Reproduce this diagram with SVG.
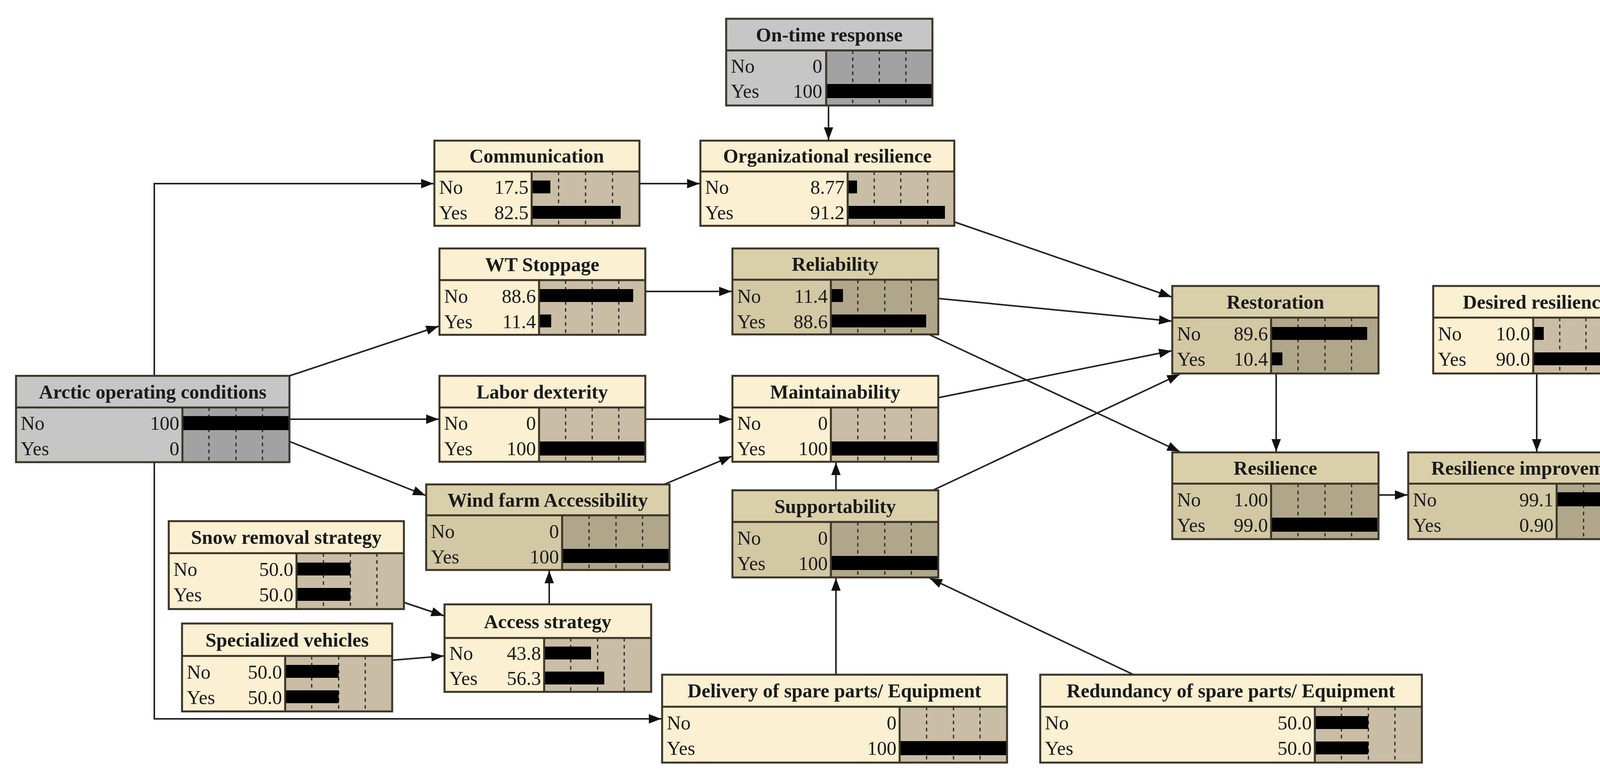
<svg xmlns="http://www.w3.org/2000/svg" width="4305" height="1994" viewBox="0 0 4305 1994">
<style>
.o{stroke:#3a3528;stroke-width:5}
.tc{fill:#fcf0d2}.bc{fill:#c9bda5}
.td{fill:#d9d0aa}.ld{fill:#d2c8a4}.bd{fill:#b0a68a}
.tg{fill:#c6c6c6}.bg{fill:#a2a2a2}
.dv{stroke:#3a3528;stroke-width:5}
.ds{stroke:#222;stroke-width:3;stroke-dasharray:9 9}
.bar{fill:#000}
.t{font-family:"Liberation Serif",serif;font-weight:bold;font-size:50px;fill:#1a1a1a;text-anchor:middle}
.r{font-family:"Liberation Serif",serif;font-size:50px;fill:#1a1a1a}
.v{text-anchor:end}
.e{stroke:#222;stroke-width:4;fill:none;marker-end:url(#ah)}
</style>
<defs>
<marker id="ah" markerUnits="userSpaceOnUse" markerWidth="34" markerHeight="24" refX="32" refY="12" orient="auto"><path d="M0,0 L32,12 L0,24 Z" fill="#111"/></marker>
</defs>
<rect width="4305" height="1994" fill="#fff"/>
<g id="connectors">
<path class="e" d="M395,962 V470 H1110"/>
<path class="e" d="M395,1183 V1840 H1693"/>
<path class="e" d="M741,962 L1123,835"/>
<path class="e" d="M741,1073 H1123"/>
<path class="e" d="M741,1130 L1089,1268"/>
<path class="e" d="M1637,470 H1791"/>
<path class="e" d="M2121,272 V358"/>
<path class="e" d="M1652,746 H1873"/>
<path class="e" d="M1652,1073 H1873"/>
<path class="e" d="M1700,1240 L1873,1168"/>
<path class="e" d="M1406,1547 V1461"/>
<path class="e" d="M1034,1542 L1136,1576"/>
<path class="e" d="M1004,1690 L1136,1679"/>
<path class="e" d="M2443,568 L2999,760"/>
<path class="e" d="M2402,764 L2999,822"/>
<path class="e" d="M2402,1018 L2999,898"/>
<path class="e" d="M2388,1255 L3020,958"/>
<path class="e" d="M2378,856 L3020,1156"/>
<path class="e" d="M2140,1255 V1184"/>
<path class="e" d="M2140,1727 V1480"/>
<path class="e" d="M2902,1727 L2380,1480"/>
<path class="e" d="M3267,956 V1156"/>
<path class="e" d="M3934,956 V1156"/>
<path class="e" d="M3529,1267 H3603"/>
</g>
<g id="ontime">
<rect x="1859" y="48" width="528" height="222" class="tg"/>
<rect x="2115" y="129" width="272" height="141" class="bg"/>
<path class="ds" d="M2183,129V270M2251,129V270M2319,129V270"/>
<rect class="bar" x="2115" y="215" width="272" height="36"/>
<path class="dv" d="M1859,129H2387M2115,129V270"/><rect x="1859" y="48" width="528" height="222" fill="none" class="o"/>
<text class="t" x="2123" y="106">On-time response</text>
<text class="r" x="1871" y="186">No</text><text class="r v" x="2105" y="186">0</text>
<text class="r" x="1871" y="250">Yes</text><text class="r v" x="2105" y="250">100</text>
</g>
<g id="communication">
<rect x="1112" y="360" width="525" height="218" class="tc"/>
<rect x="1361" y="439" width="276" height="139" class="bc"/>
<path class="ds" d="M1430,439V578M1499,439V578M1568,439V578"/>
<rect class="bar" x="1361" y="462" width="48" height="33"/><rect class="bar" x="1361" y="527" width="228" height="33"/>
<path class="dv" d="M1112,439H1637M1361,439V578"/><rect x="1112" y="360" width="525" height="218" fill="none" class="o"/>
<text class="t" x="1374" y="416">Communication</text>
<text class="r" x="1124" y="496">No</text><text class="r v" x="1353" y="496">17.5</text>
<text class="r" x="1124" y="561">Yes</text><text class="r v" x="1353" y="561">82.5</text>
</g>
<g id="org">
<rect x="1793" y="360" width="650" height="218" class="tc"/>
<rect x="2170" y="439" width="273" height="139" class="bc"/>
<path class="ds" d="M2238,439V578M2306,439V578M2375,439V578"/>
<rect class="bar" x="2170" y="462" width="24" height="33"/><rect class="bar" x="2170" y="527" width="249" height="33"/>
<path class="dv" d="M1793,439H2443M2170,439V578"/><rect x="1793" y="360" width="650" height="218" fill="none" class="o"/>
<text class="t" x="2118" y="416">Organizational resilience</text>
<text class="r" x="1805" y="496">No</text><text class="r v" x="2162" y="496">8.77</text>
<text class="r" x="1805" y="561">Yes</text><text class="r v" x="2162" y="561">91.2</text>
</g>
<g id="wt">
<rect x="1125" y="636" width="527" height="221" class="tc"/>
<rect x="1380" y="717" width="272" height="140" class="bc"/>
<path class="ds" d="M1448,717V857M1516,717V857M1584,717V857"/>
<rect class="bar" x="1380" y="740" width="241" height="33"/><rect class="bar" x="1380" y="805" width="31" height="33"/>
<path class="dv" d="M1125,717H1652M1380,717V857"/><rect x="1125" y="636" width="527" height="221" fill="none" class="o"/>
<text class="t" x="1388" y="694">WT Stoppage</text>
<text class="r" x="1137" y="775">No</text><text class="r v" x="1372" y="775">88.6</text>
<text class="r" x="1137" y="840">Yes</text><text class="r v" x="1372" y="840">11.4</text>
</g>
<g id="reliability">
<rect x="1875" y="636" width="527" height="220" class="ld"/>
<rect x="1875" y="636" width="527" height="80" class="td"/>
<rect x="2127" y="716" width="275" height="140" class="bd"/>
<path class="ds" d="M2196,716V856M2265,716V856M2333,716V856"/>
<rect class="bar" x="2127" y="740" width="31" height="33"/><rect class="bar" x="2127" y="805" width="244" height="33"/>
<path class="dv" d="M1875,716H2402M2127,716V856"/><rect x="1875" y="636" width="527" height="220" fill="none" class="o"/>
<text class="t" x="2138" y="693">Reliability</text>
<text class="r" x="1887" y="775">No</text><text class="r v" x="2119" y="775">11.4</text>
<text class="r" x="1887" y="840">Yes</text><text class="r v" x="2119" y="840">88.6</text>
</g>
<g id="arctic">
<rect x="41" y="962" width="700" height="221" class="tg"/>
<rect x="467" y="1043" width="274" height="140" class="bg"/>
<path class="ds" d="M535,1043V1183M604,1043V1183M672,1043V1183"/>
<rect class="bar" x="467" y="1065" width="274" height="36"/>
<path class="dv" d="M41,1043H741M467,1043V1183"/><rect x="41" y="962" width="700" height="221" fill="none" class="o"/>
<text class="t" x="391" y="1020">Arctic operating conditions</text>
<text class="r" x="53" y="1100">No</text><text class="r v" x="459" y="1100">100</text>
<text class="r" x="53" y="1165">Yes</text><text class="r v" x="459" y="1165">0</text>
</g>
<g id="labor">
<rect x="1125" y="962" width="527" height="220" class="tc"/>
<rect x="1380" y="1043" width="272" height="139" class="bc"/>
<path class="ds" d="M1448,1043V1182M1516,1043V1182M1584,1043V1182"/>
<rect class="bar" x="1380" y="1130" width="272" height="36"/>
<path class="dv" d="M1125,1043H1652M1380,1043V1182"/><rect x="1125" y="962" width="527" height="220" fill="none" class="o"/>
<text class="t" x="1388" y="1020">Labor dexterity</text>
<text class="r" x="1137" y="1100">No</text><text class="r v" x="1372" y="1100">0</text>
<text class="r" x="1137" y="1165">Yes</text><text class="r v" x="1372" y="1165">100</text>
</g>
<g id="maint">
<rect x="1875" y="962" width="527" height="220" class="tc"/>
<rect x="2127" y="1043" width="275" height="139" class="bc"/>
<path class="ds" d="M2196,1043V1182M2265,1043V1182M2333,1043V1182"/>
<rect class="bar" x="2127" y="1130" width="275" height="36"/>
<path class="dv" d="M1875,1043H2402M2127,1043V1182"/><rect x="1875" y="962" width="527" height="220" fill="none" class="o"/>
<text class="t" x="2138" y="1020">Maintainability</text>
<text class="r" x="1887" y="1100">No</text><text class="r v" x="2119" y="1100">0</text>
<text class="r" x="1887" y="1165">Yes</text><text class="r v" x="2119" y="1165">100</text>
</g>
<g id="restoration">
<rect x="3001" y="732" width="528" height="224" class="ld"/>
<rect x="3001" y="732" width="528" height="81" class="td"/>
<rect x="3254" y="813" width="275" height="143" class="bd"/>
<path class="ds" d="M3323,813V956M3392,813V956M3460,813V956"/>
<rect class="bar" x="3254" y="837" width="246" height="33"/><rect class="bar" x="3254" y="902" width="29" height="33"/>
<path class="dv" d="M3001,813H3529M3254,813V956"/><rect x="3001" y="732" width="528" height="224" fill="none" class="o"/>
<text class="t" x="3265" y="790">Restoration</text>
<text class="r" x="3013" y="871">No</text><text class="r v" x="3246" y="871">89.6</text>
<text class="r" x="3013" y="936">Yes</text><text class="r v" x="3246" y="936">10.4</text>
</g>
<g id="desired">
<rect x="3669" y="732" width="527" height="224" class="tc"/>
<rect x="3925" y="813" width="271" height="143" class="bc"/>
<path class="ds" d="M3993,813V956M4060,813V956M4128,813V956"/>
<rect class="bar" x="3925" y="837" width="27" height="33"/><rect class="bar" x="3925" y="902" width="244" height="33"/>
<path class="dv" d="M3669,813H4196M3925,813V956"/><rect x="3669" y="732" width="527" height="224" fill="none" class="o"/>
<text class="t" x="3932" y="790">Desired resilience</text>
<text class="r" x="3681" y="871">No</text><text class="r v" x="3917" y="871">10.0</text>
<text class="r" x="3681" y="936">Yes</text><text class="r v" x="3917" y="936">90.0</text>
</g>
<g id="resilience">
<rect x="3001" y="1158" width="528" height="222" class="ld"/>
<rect x="3001" y="1158" width="528" height="80" class="td"/>
<rect x="3254" y="1238" width="275" height="142" class="bd"/>
<path class="ds" d="M3323,1238V1380M3392,1238V1380M3460,1238V1380"/>
<rect class="bar" x="3254" y="1325" width="272" height="36"/>
<path class="dv" d="M3001,1238H3529M3254,1238V1380"/><rect x="3001" y="1158" width="528" height="222" fill="none" class="o"/>
<text class="t" x="3265" y="1215">Resilience</text>
<text class="r" x="3013" y="1296">No</text><text class="r v" x="3246" y="1296">1.00</text>
<text class="r" x="3013" y="1361">Yes</text><text class="r v" x="3246" y="1361">99.0</text>
</g>
<g id="resimp">
<rect x="3605" y="1158" width="655" height="222" class="ld"/>
<rect x="3605" y="1158" width="655" height="80" class="td"/>
<rect x="3985" y="1238" width="275" height="142" class="bd"/>
<path class="ds" d="M4054,1238V1380M4123,1238V1380M4191,1238V1380"/>
<rect class="bar" x="3985" y="1260" width="275" height="36"/>
<path class="dv" d="M3605,1238H4260M3985,1238V1380"/><rect x="3605" y="1158" width="655" height="222" fill="none" class="o"/>
<text class="t" x="3932" y="1215">Resilience improvement?</text>
<text class="r" x="3617" y="1296">No</text><text class="r v" x="3977" y="1296">99.1</text>
<text class="r" x="3617" y="1361">Yes</text><text class="r v" x="3977" y="1361">0.90</text>
</g>
<g id="support">
<rect x="1875" y="1255" width="527" height="223" class="ld"/>
<rect x="1875" y="1255" width="527" height="81" class="td"/>
<rect x="2127" y="1336" width="275" height="142" class="bd"/>
<path class="ds" d="M2196,1336V1478M2265,1336V1478M2333,1336V1478"/>
<rect class="bar" x="2127" y="1423" width="275" height="36"/>
<path class="dv" d="M1875,1336H2402M2127,1336V1478"/><rect x="1875" y="1255" width="527" height="223" fill="none" class="o"/>
<text class="t" x="2138" y="1313">Supportability</text>
<text class="r" x="1887" y="1394">No</text><text class="r v" x="2119" y="1394">0</text>
<text class="r" x="1887" y="1459">Yes</text><text class="r v" x="2119" y="1459">100</text>
</g>
<g id="windfarm">
<rect x="1091" y="1240" width="623" height="219" class="ld"/>
<rect x="1091" y="1240" width="623" height="79" class="td"/>
<rect x="1439" y="1319" width="275" height="140" class="bd"/>
<path class="ds" d="M1508,1319V1459M1577,1319V1459M1645,1319V1459"/>
<rect class="bar" x="1439" y="1405" width="275" height="36"/>
<path class="dv" d="M1091,1319H1714M1439,1319V1459"/><rect x="1091" y="1240" width="623" height="219" fill="none" class="o"/>
<text class="t" x="1402" y="1297">Wind farm Accessibility</text>
<text class="r" x="1103" y="1377">No</text><text class="r v" x="1431" y="1377">0</text>
<text class="r" x="1103" y="1442">Yes</text><text class="r v" x="1431" y="1442">100</text>
</g>
<g id="snow">
<rect x="432" y="1334" width="602" height="225" class="tc"/>
<rect x="759" y="1416" width="275" height="143" class="bc"/>
<path class="ds" d="M828,1416V1559M897,1416V1559M965,1416V1559"/>
<rect class="bar" x="759" y="1440" width="138" height="33"/><rect class="bar" x="759" y="1505" width="138" height="33"/>
<path class="dv" d="M432,1416H1034M759,1416V1559"/><rect x="432" y="1334" width="602" height="225" fill="none" class="o"/>
<text class="t" x="733" y="1392">Snow removal strategy</text>
<text class="r" x="444" y="1474">No</text><text class="r v" x="751" y="1474">50.0</text>
<text class="r" x="444" y="1539">Yes</text><text class="r v" x="751" y="1539">50.0</text>
</g>
<g id="spec">
<rect x="466" y="1596" width="538" height="225" class="tc"/>
<rect x="730" y="1679" width="274" height="142" class="bc"/>
<path class="ds" d="M798,1679V1821M867,1679V1821M935,1679V1821"/>
<rect class="bar" x="730" y="1702" width="137" height="33"/><rect class="bar" x="730" y="1767" width="137" height="33"/>
<path class="dv" d="M466,1679H1004M730,1679V1821"/><rect x="466" y="1596" width="538" height="225" fill="none" class="o"/>
<text class="t" x="735" y="1655">Specialized vehicles</text>
<text class="r" x="478" y="1737">No</text><text class="r v" x="722" y="1737">50.0</text>
<text class="r" x="478" y="1802">Yes</text><text class="r v" x="722" y="1802">50.0</text>
</g>
<g id="access">
<rect x="1138" y="1547" width="529" height="224" class="tc"/>
<rect x="1393" y="1633" width="274" height="138" class="bc"/>
<path class="ds" d="M1461,1633V1771M1530,1633V1771M1598,1633V1771"/>
<rect class="bar" x="1393" y="1655" width="120" height="33"/><rect class="bar" x="1393" y="1719" width="154" height="33"/>
<path class="dv" d="M1138,1633H1667M1393,1633V1771"/><rect x="1138" y="1547" width="529" height="224" fill="none" class="o"/>
<text class="t" x="1402" y="1608">Access strategy</text>
<text class="r" x="1150" y="1689">No</text><text class="r v" x="1385" y="1689">43.8</text>
<text class="r" x="1150" y="1753">Yes</text><text class="r v" x="1385" y="1753">56.3</text>
</g>
<g id="delivery">
<rect x="1695" y="1727" width="883" height="225" class="tc"/>
<rect x="2303" y="1809" width="275" height="143" class="bc"/>
<path class="ds" d="M2372,1809V1952M2441,1809V1952M2509,1809V1952"/>
<rect class="bar" x="2303" y="1897" width="275" height="36"/>
<path class="dv" d="M1695,1809H2578M2303,1809V1952"/><rect x="1695" y="1727" width="883" height="225" fill="none" class="o"/>
<text class="t" x="2136" y="1785">Delivery of spare parts/ Equipment</text>
<text class="r" x="1707" y="1867">No</text><text class="r v" x="2295" y="1867">0</text>
<text class="r" x="1707" y="1932">Yes</text><text class="r v" x="2295" y="1932">100</text>
</g>
<g id="redundancy">
<rect x="2663" y="1727" width="977" height="225" class="tc"/>
<rect x="3366" y="1809" width="274" height="143" class="bc"/>
<path class="ds" d="M3434,1809V1952M3503,1809V1952M3571,1809V1952"/>
<rect class="bar" x="3366" y="1833" width="137" height="33"/><rect class="bar" x="3366" y="1898" width="137" height="33"/>
<path class="dv" d="M2663,1809H3640M3366,1809V1952"/><rect x="2663" y="1727" width="977" height="225" fill="none" class="o"/>
<text class="t" x="3151" y="1785">Redundancy of spare parts/ Equipment</text>
<text class="r" x="2675" y="1867">No</text><text class="r v" x="3358" y="1867">50.0</text>
<text class="r" x="2675" y="1932">Yes</text><text class="r v" x="3358" y="1932">50.0</text>
</g>
</svg>
